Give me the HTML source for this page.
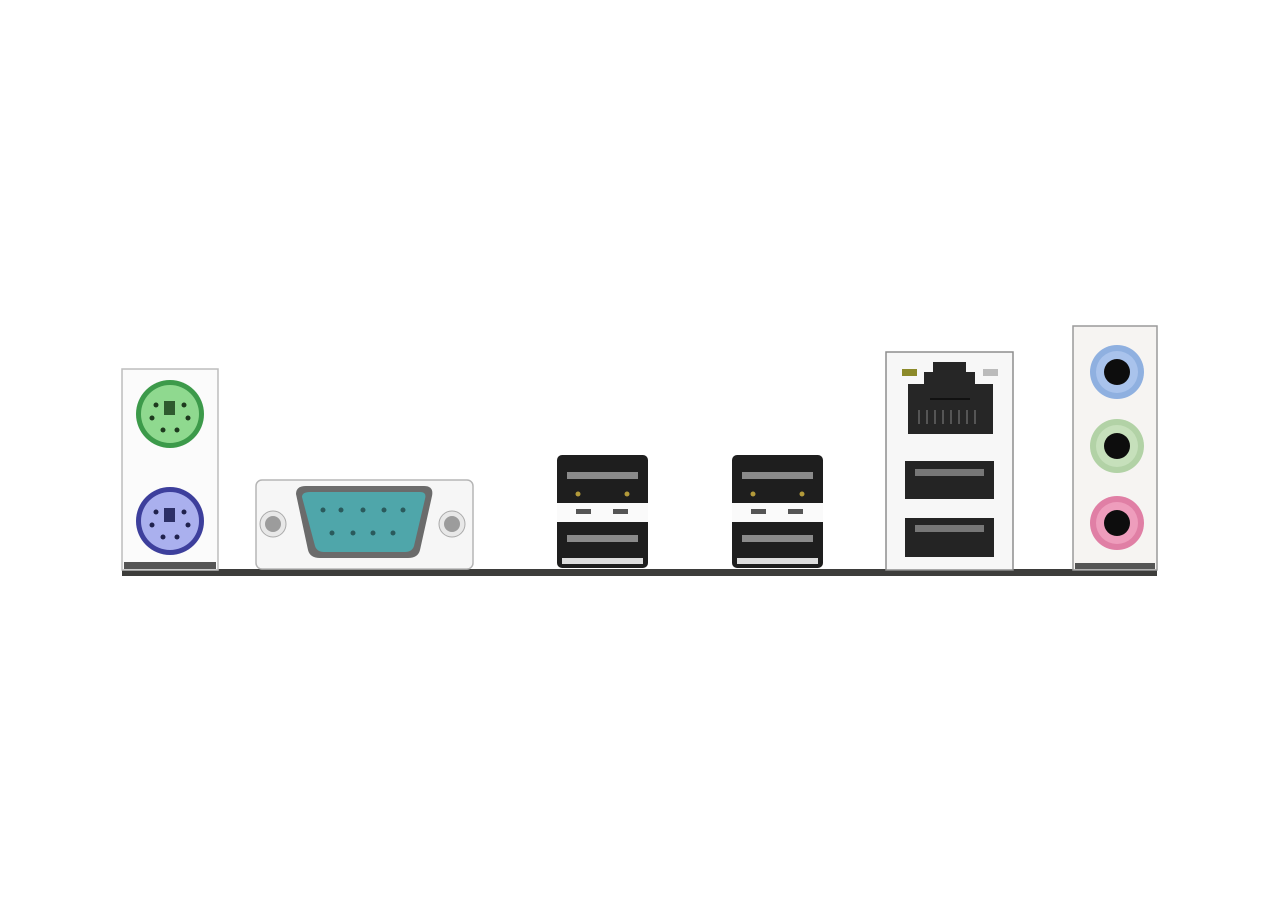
<!DOCTYPE html>
<html><head><meta charset="utf-8"><style>html,body{margin:0;padding:0;background:#fff;}svg{display:block}</style></head>
<body>
<svg width="1280" height="900" viewBox="0 0 1280 900" xmlns="http://www.w3.org/2000/svg">
<rect width="1280" height="900" fill="#fff"/>
<!-- baseline -->
<rect x="122" y="569" width="1035" height="7" fill="#3d3d3b"/>
<!-- PS2 plate -->
<rect x="122" y="369" width="96" height="201" fill="#fbfbfb" stroke="#bdbdbd" stroke-width="1.5"/>
<g>
<circle cx="170" cy="414" r="34" fill="#3c9a4a"/>
<circle cx="170" cy="414" r="29" fill="#8fd98f"/>
<rect x="164" y="401" width="11" height="14" fill="#2e5a2e"/>
<g fill="#1e3a1e"><circle cx="156" cy="405" r="2.5"/><circle cx="184" cy="405" r="2.5"/><circle cx="152" cy="418" r="2.5"/><circle cx="188" cy="418" r="2.5"/><circle cx="163" cy="430" r="2.5"/><circle cx="177" cy="430" r="2.5"/></g>
</g>
<g>
<circle cx="170" cy="521" r="34" fill="#3d3f9c"/>
<circle cx="170" cy="521" r="29" fill="#aab0ee"/>
<rect x="164" y="508" width="11" height="14" fill="#2c2f66"/>
<g fill="#20224d"><circle cx="156" cy="512" r="2.5"/><circle cx="184" cy="512" r="2.5"/><circle cx="152" cy="525" r="2.5"/><circle cx="188" cy="525" r="2.5"/><circle cx="163" cy="537" r="2.5"/><circle cx="177" cy="537" r="2.5"/></g>
</g>
<rect x="124" y="562" width="92" height="7" fill="#555"/>
<!-- Serial -->
<rect x="256" y="480" width="217" height="89" rx="6" fill="#f6f6f6" stroke="#b5b5b5" stroke-width="1.5"/>
<circle cx="273" cy="524" r="13" fill="#e8e8e8" stroke="#aaa"/>
<circle cx="273" cy="524" r="8" fill="#9c9c9c"/>
<circle cx="452" cy="524" r="13" fill="#e8e8e8" stroke="#aaa"/>
<circle cx="452" cy="524" r="8" fill="#9c9c9c"/>
<path d="M296 494 Q296 486 306 486 L424 486 Q434 486 432 496 L420 550 Q418 558 408 558 L320 558 Q310 558 308 550 Z" fill="#6b6b6b"/>
<path d="M302 497 Q302 492 310 492 L420 492 Q427 492 425 499 L414 546 Q412 552 405 552 L324 552 Q317 552 315 546 Z" fill="#4fa6aa"/>
<g fill="#2a5a5c"><circle cx="323" cy="510" r="2.5"/><circle cx="341" cy="510" r="2.5"/><circle cx="363" cy="510" r="2.5"/><circle cx="384" cy="510" r="2.5"/><circle cx="403" cy="510" r="2.5"/><circle cx="332" cy="533" r="2.5"/><circle cx="353" cy="533" r="2.5"/><circle cx="373" cy="533" r="2.5"/><circle cx="393" cy="533" r="2.5"/></g>
<!-- USB stacks -->
<g id="u1">
<rect x="557" y="455" width="91" height="113" rx="5" fill="#1e1e1e"/>
<rect x="567" y="472" width="71" height="7" fill="#8a8a8a"/>
<rect x="567" y="535" width="71" height="7" fill="#8a8a8a"/>
<circle cx="578" cy="494" r="2.5" fill="#b39a3a"/><circle cx="627" cy="494" r="2.5" fill="#b39a3a"/>
<rect x="557" y="503" width="91" height="19" fill="#fafafa"/>
<rect x="576" y="509" width="15" height="5" fill="#555"/><rect x="613" y="509" width="15" height="5" fill="#555"/>
<rect x="562" y="558" width="81" height="6" fill="#ddd"/>
</g>
<g transform="translate(175,0)">
<rect x="557" y="455" width="91" height="113" rx="5" fill="#1e1e1e"/>
<rect x="567" y="472" width="71" height="7" fill="#8a8a8a"/>
<rect x="567" y="535" width="71" height="7" fill="#8a8a8a"/>
<circle cx="578" cy="494" r="2.5" fill="#b39a3a"/><circle cx="627" cy="494" r="2.5" fill="#b39a3a"/>
<rect x="557" y="503" width="91" height="19" fill="#fafafa"/>
<rect x="576" y="509" width="15" height="5" fill="#555"/><rect x="613" y="509" width="15" height="5" fill="#555"/>
<rect x="562" y="558" width="81" height="6" fill="#ddd"/>
</g>
<!-- LAN + USB -->
<rect x="886" y="352" width="127" height="218" fill="#f7f7f7" stroke="#8d8d8d" stroke-width="1.5"/>
<path d="M908 384 L924 384 L924 372 L933 372 L933 362 L966 362 L966 372 L975 372 L975 384 L993 384 L993 434 L908 434 Z" fill="#262626"/>
<rect x="930" y="398" width="40" height="2" fill="#111"/>
<g fill="#555"><rect x="918" y="410" width="2" height="14"/><rect x="926" y="410" width="2" height="14"/><rect x="934" y="410" width="2" height="14"/><rect x="942" y="410" width="2" height="14"/><rect x="950" y="410" width="2" height="14"/><rect x="958" y="410" width="2" height="14"/><rect x="966" y="410" width="2" height="14"/><rect x="974" y="410" width="2" height="14"/></g>
<rect x="902" y="369" width="15" height="7" fill="#8c8a2a"/>
<rect x="983" y="369" width="15" height="7" fill="#bbb"/>
<rect x="905" y="461" width="89" height="38" fill="#242424"/>
<rect x="915" y="469" width="69" height="7" fill="#777"/>
<rect x="905" y="518" width="89" height="39" fill="#242424"/>
<rect x="915" y="525" width="69" height="7" fill="#777"/>
<!-- Audio -->
<rect x="1073" y="326" width="84" height="244" fill="#f6f4f2" stroke="#9a9a9a" stroke-width="1.5"/>
<circle cx="1117" cy="372" r="27" fill="#8fb0e0"/><circle cx="1117" cy="372" r="21" fill="#a9c3ec"/><circle cx="1117" cy="372" r="13" fill="#0d0d0d"/>
<circle cx="1117" cy="446" r="27" fill="#b2d2a6"/><circle cx="1117" cy="446" r="21" fill="#c6e0bb"/><circle cx="1117" cy="446" r="13" fill="#0d0d0d"/>
<circle cx="1117" cy="523" r="27" fill="#e07fa5"/><circle cx="1117" cy="523" r="21" fill="#ee9dbc"/><circle cx="1117" cy="523" r="13" fill="#0d0d0d"/>
<rect x="1075" y="563" width="80" height="6" fill="#555"/>
</svg>
</body></html>
